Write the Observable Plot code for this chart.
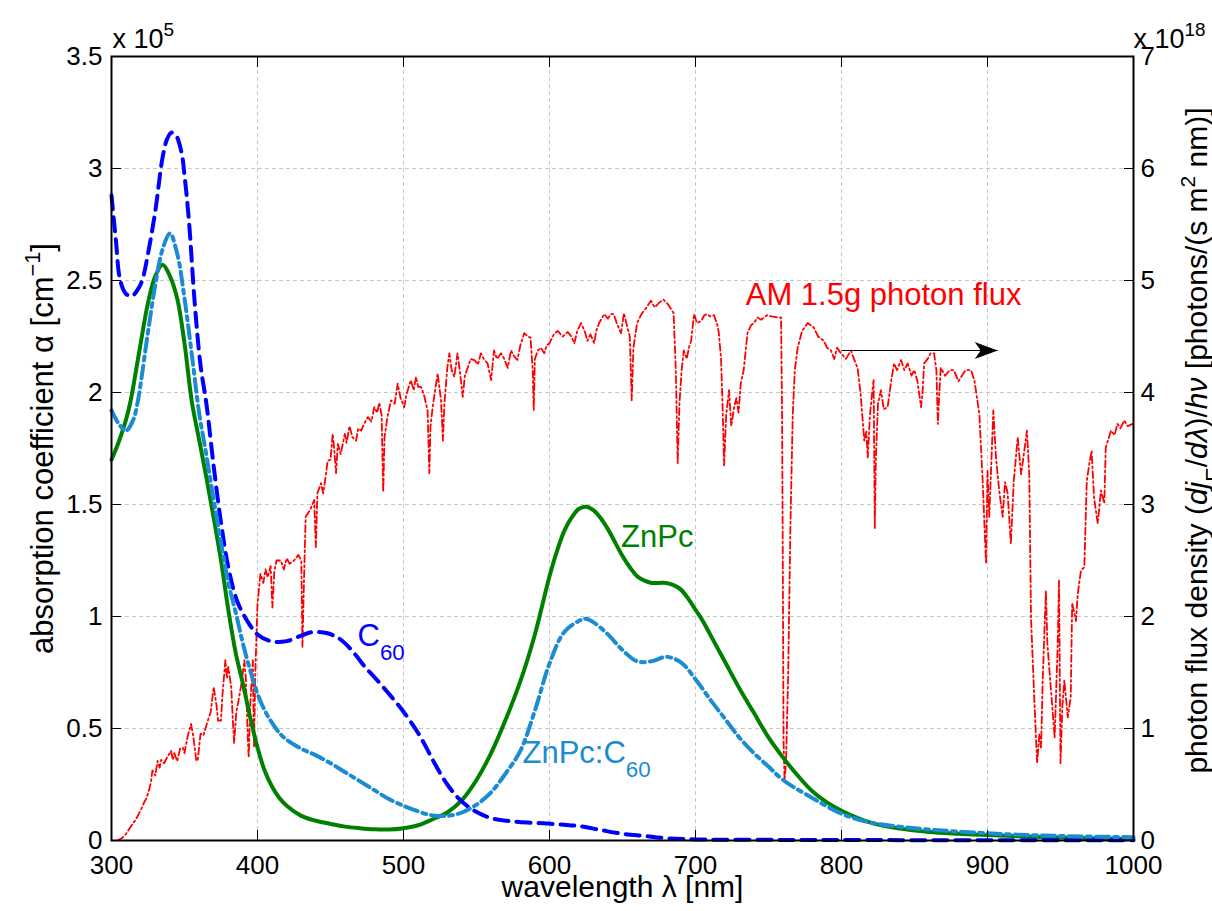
<!DOCTYPE html>
<html><head><meta charset="utf-8">
<script src="https://cdn.jsdelivr.net/npm/d3@7"></script>
<script src="https://cdn.jsdelivr.net/npm/@observablehq/plot@0.6"></script>
<style>html,body{margin:0;padding:0;background:#fff;} svg{display:block}</style>
</head><body><div id="chart"></div>
<script>
// ---- tick values ----
const xTicks = [300, 400, 500, 600, 700, 800, 900, 1000];          // wavelength (nm)
const alphaTicks = [0, 0.5, 1, 1.5, 2, 2.5, 3, 3.5];                // absorption coefficient, x 10^5 cm^-1
const fluxTicks = [0, 1, 2, 3, 4, 5, 6, 7];                          // photon flux, x 10^18

// ---- series: [wavelength nm, value] ----
// ZnPc absorption coefficient (x 10^5 cm^-1)
const znpc = [[300,1.70],[305,1.78],[310,1.88],[313,1.96],[315,2.03],[320,2.22],[325,2.40],[330,2.52],[335,2.57],[340,2.52],[345,2.42],[350,2.22],[355,1.96],[360,1.79],[365,1.62],[370,1.44],[375,1.25],[380,1.03],[385,0.84],[390,0.70],[395,0.55],[400,0.415],[405,0.31],[410,0.24],[415,0.19],[420,0.155],[430,0.11],[440,0.088],[450,0.074],[460,0.062],[470,0.055],[480,0.05],[490,0.049],[500,0.055],[510,0.068],[520,0.095],[530,0.125],[540,0.18],[550,0.27],[560,0.39],[570,0.54],[580,0.71],[590,0.92],[600,1.18],[605,1.29],[610,1.38],[615,1.44],[620,1.48],[625,1.49],[630,1.475],[635,1.44],[640,1.39],[645,1.33],[650,1.27],[655,1.22],[660,1.18],[665,1.16],[670,1.15],[675,1.15],[680,1.15],[685,1.14],[690,1.12],[695,1.08],[700,1.03],[705,0.98],[710,0.92],[720,0.80],[730,0.68],[740,0.57],[750,0.46],[760,0.37],[770,0.29],[780,0.22],[790,0.17],[800,0.133],[820,0.08],[840,0.053],[860,0.038],[880,0.03],[900,0.024],[950,0.013],[1000,0.007]];
// C60 absorption coefficient (x 10^5 cm^-1)
const c60 = [[300,2.88],[303,2.68],[306,2.50],[310,2.44],[314,2.43],[318,2.46],[321,2.50],[325,2.62],[330,2.81],[335,3.05],[338,3.13],[341,3.16],[344,3.15],[348,3.07],[350,2.97],[353,2.77],[357,2.40],[361,2.12],[365,1.95],[370,1.67],[375,1.42],[380,1.22],[386,1.07],[393,0.98],[400,0.92],[409,0.89],[420,0.89],[430,0.915],[437,0.93],[448,0.925],[455,0.905],[460,0.88],[467,0.83],[473,0.78],[480,0.73],[490,0.655],[500,0.575],[510,0.48],[516,0.41],[520,0.36],[530,0.25],[539,0.18],[548,0.135],[560,0.10],[571,0.088],[585,0.08],[598,0.076],[610,0.07],[620,0.065],[635,0.047],[650,0.03],[665,0.02],[680,0.01],[700,0.005],[750,0.003],[800,0.002],[1000,0.001]];
// ZnPc:C60 blend absorption coefficient (x 10^5 cm^-1)
const blend = [[300,1.92],[305,1.86],[310,1.83],[315,1.88],[318,1.96],[320,2.04],[325,2.27],[330,2.48],[335,2.64],[340,2.71],[345,2.62],[350,2.42],[355,2.17],[360,1.91],[365,1.72],[370,1.52],[375,1.33],[380,1.15],[385,1.02],[390,0.88],[395,0.76],[400,0.655],[405,0.58],[410,0.525],[415,0.48],[420,0.45],[430,0.41],[440,0.38],[450,0.345],[460,0.305],[470,0.265],[480,0.225],[490,0.185],[500,0.155],[510,0.13],[520,0.112],[530,0.11],[540,0.125],[550,0.16],[560,0.215],[570,0.30],[580,0.40],[590,0.58],[600,0.79],[610,0.93],[620,0.98],[625,0.99],[630,0.975],[640,0.92],[650,0.85],[660,0.80],[670,0.80],[680,0.82],[690,0.795],[700,0.72],[710,0.63],[720,0.545],[730,0.46],[740,0.39],[750,0.33],[760,0.27],[780,0.19],[800,0.12],[820,0.08],[850,0.055],[900,0.032],[950,0.02],[1000,0.015]];
// AM 1.5g photon flux density (x 10^18 photons/(s m^2 nm))
const amFlux = [[304,0],[307,0.02],[310,0.06],[313,0.12],[316.8,0.19],[320,0.27],[322,0.33],[324,0.38],[325.7,0.45],[327,0.52],[328,0.625],[330,0.58],[331.6,0.71],[333,0.65],[334,0.72],[336,0.69],[338,0.74],[340.8,0.80],[342,0.72],[343,0.78],[345,0.71],[347,0.82],[348.8,0.83],[350,0.78],[352,0.92],[354.5,1.04],[356,0.93],[358,0.72],[359,0.71],[361,0.955],[363,0.94],[366,1.07],[368,1.15],[370,1.37],[372,1.2],[373,1.07],[375,1.07],[376,1.3],[378,1.61],[379,1.45],[380,1.55],[382,1.37],[383,1.1],[384,0.87],[385.5,1.15],[387,1.25],[389,1.4],[391,1.61],[392,1.45],[393.4,0.9],[394,0.74],[395,1.2],[396.8,1.61],[397.6,0.83],[398.5,1.5],[400,2.11],[402,2.38],[404,2.3],[405.5,2.42],[407,2.35],[409,2.45],[410.2,2.08],[411.5,2.4],[413,2.5],[416,2.5],[418,2.42],[420,2.52],[422,2.47],[425,2.5],[428,2.55],[430,2.5],[430.8,1.73],[431.8,2.3],[433,2.89],[436,2.95],[438.8,3.04],[440,2.62],[441,3.1],[443.5,3.19],[445,3.1],[447,3.28],[448,3.39],[450,3.4],[451.5,3.63],[452.5,3.5],[453.8,3.28],[455,3.54],[457,3.45],[459.8,3.63],[461,3.55],[463,3.70],[465,3.6],[467.5,3.57],[469,3.68],[471,3.66],[473,3.72],[475.6,3.78],[478,3.74],[480,3.87],[482,3.82],[483.4,3.91],[485,3.8],[486.1,3.11],[487,3.6],[489,3.78],[491.4,3.93],[494,3.9],[496,4.08],[498,3.95],[500.5,3.87],[502,3.98],[505,4.11],[507,4.02],[508.6,4.14],[510,4.05],[512,4.05],[514,3.98],[516.5,3.84],[517.7,3.28],[518.5,3.7],[520,3.87],[522,4.05],[523.4,4.17],[525.7,3.93],[527,3.57],[528,3.9],[530,4.22],[531.4,4.35],[533,4.2],[534.8,4.14],[537,4.35],[538.5,4.2],[540.6,3.96],[542,4.15],[544,4.22],[546,4.3],[548.5,4.29],[551,4.25],[553,4.35],[555,4.3],[557.6,4.26],[560,4.11],[562,4.375],[564,4.3],[566.8,4.35],[569,4.3],[571.4,4.22],[573.6,4.375],[576,4.32],[578,4.29],[580,4.42],[582.7,4.53],[585,4.5],[587,4.49],[588.5,4.2],[589.2,3.84],[590,4.3],[592,4.375],[594,4.4],[596.4,4.35],[598,4.42],[600,4.44],[603,4.52],[605.6,4.55],[609,4.5],[612.5,4.54],[615,4.5],[617,4.44],[619,4.55],[621.6,4.62],[624,4.55],[626,4.46],[628,4.52],[630.6,4.44],[632,4.55],[634,4.62],[637.5,4.70],[640,4.66],[642,4.70],[644,4.70],[646,4.62],[649,4.53],[651,4.71],[653,4.6],[655,4.5],[656.3,3.93],[657.5,4.4],[660,4.62],[663,4.7],[666,4.75],[669.5,4.82],[672,4.76],[675,4.8],[678,4.83],[681,4.79],[683,4.75],[685,4.71],[686.5,4.2],[687.8,3.37],[689,3.9],[690.5,4.2],[692,4.375],[694,4.3],[695.5,4.4],[697,4.46],[699,4.70],[701,4.62],[704,4.64],[706,4.69],[708,4.70],[710,4.68],[712.7,4.69],[715,4.6],[716,4.53],[717.5,4.3],[718.5,3.9],[719.6,3.35],[721,3.8],[723,4.02],[724.5,3.7],[726.5,3.87],[728,3.95],[729.5,3.82],[731,4.08],[733,4.2],[735.6,4.53],[738,4.6],[740,4.62],[742.5,4.67],[745,4.65],[749,4.69],[752,4.68],[756,4.67],[758.6,4.67],[759.3,3.8],[759.7,2.77],[760.3,0.9],[761,0.54],[762,0.7],[763.5,1.5],[765,2.8],[766.6,3.8],[768,4.2],[770,4.40],[773,4.55],[776.8,4.62],[779,4.6],[781,4.58],[784,4.5],[788,4.46],[790,4.4],[792.8,4.375],[795,4.3],[797,4.4],[799.6,4.35],[803,4.3],[806.5,4.375],[808.5,4.3],[811,4.22],[813,4.0],[815.6,3.57],[817,3.65],[818,3.42],[819.5,3.8],[821,4.0],[822,4.11],[822.8,2.79],[823.5,3.4],[825,3.9],[827,4.02],[829,3.85],[831.6,3.87],[834,4.1],[836,4.26],[838,4.2],[840.8,4.29],[843,4.2],[845.3,4.26],[848,4.15],[849.8,4.20],[852,4.1],[854.5,3.87],[855.5,4.0],[856.6,4.26],[859,4.3],[861,4.35],[863.4,4.35],[865,4.2],[866,3.72],[867,4.0],[868,4.22],[871,4.15],[874,4.2],[877,4.20],[880,4.1],[882,4.14],[885,4.2],[888.7,4.20],[891,4.11],[894.4,3.81],[896.7,3.21],[899,2.47],[900,3.30],[901.2,2.89],[904,3.84],[905.8,3.42],[908,3.125],[910.4,2.89],[912,3.2],[913.8,3.10],[916,2.65],[918,3.21],[920.7,3.60],[923,3.27],[925,3.46],[927,3.66],[928.6,3.27],[929.8,1.99],[932,1.28],[934,0.69],[935.5,0.95],[936.7,0.83],[937.8,1.43],[940,2.23],[941,1.76],[943.5,1.34],[946,0.92],[948,1.72],[949,2.32],[950,0.69],[951.3,1.2],[952.6,1.43],[955,1.1],[957,1.28],[958,2.12],[960.6,1.96],[961.8,2.20],[964,2.41],[966.3,2.44],[968,3.21],[969.7,3.36],[971.3,3.48],[973,3.06],[975.5,2.83],[977.7,3.125],[980,3.01],[981,3.51],[984.6,3.66],[987,3.62],[989,3.72],[991,3.68],[993.6,3.75],[996,3.7],[999.4,3.72]];

// ---- annotations (data coordinates) ----
const curveLabels = [
  {text: "ZnPc", nm: 649, alpha: 1.31, key: "znpc"},
  {text: "C_{60}", nm: 468.5, alpha: 0.87, key: "c60"},
  {text: "ZnPc:C_{60}", nm: 581.5, alpha: 0.344, key: "blend"},
  {text: "AM 1.5g photon flux", nm: 734.4, alpha: 2.39, key: "am"}
];
const fluxArrow = [{from: 800, to: 907, flux: 4.375}];

// 1e18 photons/(s m^2 nm) on the right axis corresponds to 0.5e5 cm^-1 on the left axis
const FLUX_TO_ALPHA = 0.5;

const colors = {znpc: "#008000", c60: "#0000ff", blend: "#1b8bd2", am: "#ff0000"};
const font = "'Liberation Sans', Arial, Helvetica, sans-serif";

// filled arrowhead with concave back, tip at the anchor point
const arrowHead = {
  draw(ctx, size) {
    const k = Math.sqrt(size / Math.PI) / 12;
    ctx.moveTo(0, 0);
    ctx.lineTo(-23 * k, -8.5 * k);
    ctx.lineTo(-17 * k, 0);
    ctx.lineTo(-23 * k, 8.5 * k);
    ctx.closePath();
  }
};

const gridStyle = {stroke: "#c8c8c8", strokeOpacity: 1, strokeWidth: 1, strokeDasharray: "4,3"};

const chart = Plot.plot({
  width: 1212, height: 911,
  marginLeft: 111, marginRight: 79, marginTop: 56, marginBottom: 71,
  style: {fontFamily: font, fontSize: "26px", background: "white", color: "black", overflow: "visible"},
  x: {domain: [300, 1000], label: null},
  y: {domain: [0, 3.5], label: null},
  marks: [
    Plot.gridX(xTicks, gridStyle),
    Plot.gridY(alphaTicks, gridStyle),
    Plot.line(amFlux, {x: d => d[0], y: d => d[1] * FLUX_TO_ALPHA, stroke: colors.am, strokeWidth: 1.8, strokeDasharray: "7,3,2,3"}),
    Plot.line(znpc, {x: d => d[0], y: d => d[1], stroke: colors.znpc, strokeWidth: 4, curve: "catmull-rom"}),
    Plot.line(c60, {x: d => d[0], y: d => d[1], stroke: colors.c60, strokeWidth: 4, strokeDasharray: "14,8", curve: "catmull-rom"}),
    Plot.line(blend, {x: d => d[0], y: d => d[1], stroke: colors.blend, strokeWidth: 4, strokeDasharray: "13,5,4,5", curve: "catmull-rom"}),
    Plot.link(fluxArrow, {x1: "from", x2: "to", y1: d => d.flux * FLUX_TO_ALPHA, y2: d => d.flux * FLUX_TO_ALPHA, stroke: "black", strokeWidth: 1}),
    Plot.dot(fluxArrow, {x: "to", y: d => d.flux * FLUX_TO_ALPHA, symbol: arrowHead, r: 12, fill: "black", stroke: "none"}),
    Plot.text(curveLabels, {x: "nm", y: "alpha", text: "text", fill: d => colors[d.key], textAnchor: "start", lineAnchor: "bottom", fontSize: 31}),
    Plot.frame({stroke: "black", strokeWidth: 2}),
    Plot.axisX(xTicks, {anchor: "bottom", tickSize: 0, tickPadding: 15, tickFormat: d => String(d), label: null}),
    Plot.axisX(xTicks, {anchor: "bottom", tickSize: -10, fill: "none", label: null}),
    Plot.axisX(xTicks, {anchor: "top", tickSize: -10, fill: "none", label: null}),
    Plot.axisY(alphaTicks, {anchor: "left", tickSize: 0, tickPadding: 9, tickFormat: d => String(d), label: null}),
    Plot.axisY(alphaTicks, {anchor: "left", tickSize: -10, fill: "none", label: null}),
    Plot.axisY(alphaTicks, {anchor: "right", tickSize: 0, tickPadding: 7, tickFormat: d => String(fluxTicks[Math.round(d / FLUX_TO_ALPHA)]), label: null}),
    Plot.axisY(alphaTicks, {anchor: "right", tickSize: -10, fill: "none", label: null}),
    Plot.text(["absorption coefficient α [cm^{−1}]"], {frameAnchor: "left", dx: -68, rotate: -90, textAnchor: "middle", fontSize: 31}),
    Plot.text(["photon flux density (*dj*_{E}/*dλ*)/*hν* [photons/(s m^{2} nm)]"], {frameAnchor: "right", dx: 64, dy: -8, rotate: -90, textAnchor: "middle", fontSize: 30}),
    Plot.text(["wavelength λ [nm]"], {frameAnchor: "bottom", dy: 56, textAnchor: "middle", fontSize: 30}),
    Plot.text(["x 10^{5}"], {frameAnchor: "top-left", dx: 1, dy: -9, textAnchor: "start", lineAnchor: "bottom", fontSize: 27}),
    Plot.text(["x 10^{18}"], {frameAnchor: "top-right", dx: 0, dy: -9, textAnchor: "start", lineAnchor: "bottom", fontSize: 27})
  ]
});

document.getElementById("chart").appendChild(chart);

// turn ^{..}, _{..} and *..* markup into real superscript/subscript/italic tspans
function richText(svg) {
  const NS = "http://www.w3.org/2000/svg";
  for (const t of svg.querySelectorAll("text")) {
    const s = t.textContent;
    if (!/[\^_]\{|\*/.test(s)) continue;
    const base = parseFloat(getComputedStyle(t).fontSize) || 24;
    while (t.firstChild) t.removeChild(t.firstChild);
    let cur = 0, m;
    const re = /\^\{([^}]*)\}|_\{([^}]*)\}|\*([^*]*)\*|([^^_*]+)/g;
    while ((m = re.exec(s))) {
      const span = document.createElementNS(NS, "tspan");
      let target = 0, txt;
      if (m[1] !== undefined) { target = -0.42 * base; txt = m[1]; span.setAttribute("font-size", 0.7 * base); }
      else if (m[2] !== undefined) { target = 0.45 * base; txt = m[2]; span.setAttribute("font-size", 0.72 * base); }
      else if (m[3] !== undefined) { txt = m[3]; span.setAttribute("font-style", "italic"); }
      else txt = m[4];
      if (target !== cur) span.setAttribute("dy", target - cur);
      cur = target;
      span.textContent = txt;
      t.appendChild(span);
    }
  }
}
richText(chart);
</script>
</body></html>
